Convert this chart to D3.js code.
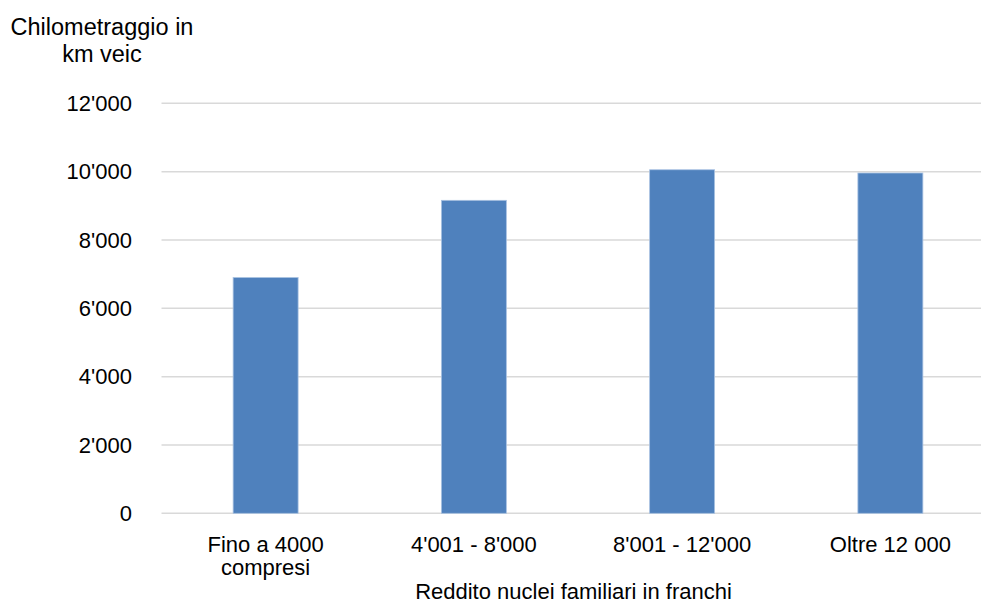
<!DOCTYPE html>
<html>
<head>
<meta charset="utf-8">
<script src="https://cdn.jsdelivr.net/npm/d3@7"></script>
<style>
  html, body { margin: 0; padding: 0; background: #ffffff; overflow: hidden; }
  svg { display: block; }
  text { font-family: "Liberation Sans", Arial, sans-serif; fill: #000000; }
</style>
</head>
<body>
<div id="chart"></div>
<script>
// Annual vehicle mileage by household income class
const categories = [["Fino a 4000", "compresi"], ["4'001 - 8'000"], ["8'001 - 12'000"], ["Oltre 12 000"]];
const values = [6900, 9160, 10055, 9960];
const yTicks = [0, 2000, 4000, 6000, 8000, 10000, 12000];
const yTitle = ["Chilometraggio in", "km veic"];
const xTitle = "Reddito nuclei familiari in franchi";

const W = 981, H = 604;
const plot = { left: 161.5, right: 994.5, top: 103.3, bottom: 513.3 };

const svg = d3.select("#chart").append("svg")
  .attr("width", W).attr("height", H);

const x = d3.scaleBand()
  .domain(d3.range(categories.length))
  .range([plot.left, plot.right])
  .paddingInner(0).paddingOuter(0);

const y = d3.scaleLinear()
  .domain([0, 12000])
  .range([plot.bottom, plot.top]);

const fmt = v => d3.format(",")(v).replace(/,/g, "'");

// Horizontal gridlines
svg.append("g")
  .selectAll("line")
  .data(yTicks)
  .join("line")
  .attr("x1", plot.left).attr("x2", plot.right)
  .attr("y1", d => y(d)).attr("y2", d => y(d))
  .attr("stroke", "#d9d9d9")
  .attr("stroke-width", 1.5);

// Y tick labels
svg.append("g")
  .selectAll("text")
  .data(yTicks)
  .join("text")
  .attr("x", 132)
  .attr("y", d => y(d))
  .attr("dy", "0.35em")
  .attr("text-anchor", "end")
  .style("font-size", "22px")
  .text(d => fmt(d));

// Bars
const barW = x.bandwidth() * 0.312;
svg.append("g")
  .selectAll("rect")
  .data(values)
  .join("rect")
  .attr("x", (d, i) => x(i) + x.bandwidth() / 2 - barW / 2)
  .attr("y", d => y(d))
  .attr("width", barW)
  .attr("height", d => y(0) - y(d))
  .attr("fill", "#4f81bd")
  .attr("stroke", "#a9c2e2")
  .attr("stroke-width", 0.8);

// Category labels
const catG = svg.append("g");
categories.forEach((lines, i) => {
  const t = catG.append("text")
    .attr("x", x(i) + x.bandwidth() / 2)
    .attr("y", 551.5)
    .attr("text-anchor", "middle")
    .style("font-size", "22px");
  lines.forEach((ln, k) => {
    t.append("tspan")
      .attr("x", x(i) + x.bandwidth() / 2)
      .attr("dy", k === 0 ? 0 : 23.5)
      .text(ln);
  });
});

// Axis titles
const yt = svg.append("text")
  .attr("x", 102).attr("y", 35)
  .attr("text-anchor", "middle")
  .style("font-size", "23.5px");
yTitle.forEach((ln, k) => {
  yt.append("tspan").attr("x", 102).attr("dy", k === 0 ? 0 : 26.5).text(ln);
});

svg.append("text")
  .attr("x", 573.5).attr("y", 599)
  .attr("text-anchor", "middle")
  .style("font-size", "22px")
  .text(xTitle);
</script>
</body>
</html>
